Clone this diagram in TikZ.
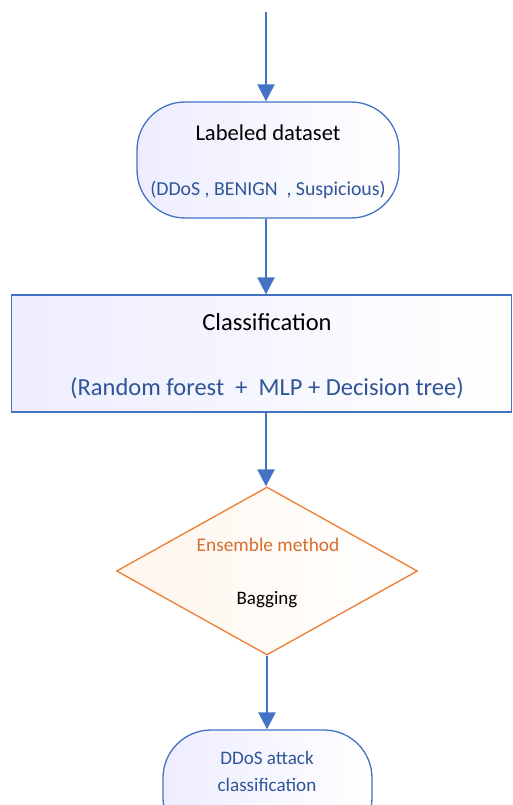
\documentclass[tikz,border=0pt]{standalone}
\usepackage{fontspec}
\setmainfont{Carlito}
\usetikzlibrary{arrows.meta,shapes.geometric}
\definecolor{flowblue}{RGB}{68,114,196}
\definecolor{textblue}{RGB}{47,85,151}
\definecolor{floworange}{RGB}{237,125,49}
\definecolor{textorange}{RGB}{214,110,45}
\begin{document}
\begin{tikzpicture}[x=1pt,y=-1pt]
		\tikzstyle{every node}+=[inner sep=0pt]
		\tikzstyle{terminal}=[draw=flowblue, line width=1.3pt, rounded corners=48pt, left color=blue!7, right color=white]
		\tikzstyle{process}=[draw=flowblue, line width=1.3pt, left color=blue!7, right color=white]
		\tikzstyle{decision}=[diamond, draw=floworange, line width=1.3pt, left color=orange!7, right color=white]
		\tikzstyle{flow}=[draw=flowblue, line width=2.4pt, -{Triangle[length=17pt,width=17pt]}]
		\useasboundingbox (0,0) rectangle (512,805);
		\clip (0,0) rectangle (512,805);
		% boxes
		\node [terminal, minimum width=262pt, minimum height=116pt] (dataset) at (268,160) {};
		\node [process, minimum width=500pt, minimum height=117pt] (classify) at (261.5,353.5) {};
		\node [decision, minimum width=301pt, minimum height=168pt] (ensemble) at (267,571) {};
		\node [terminal, minimum width=209pt, minimum height=116pt] (result) at (267.5,788) {};
		% texts
		\node (datasettitle) at (268,133) {\fontsize{22.6}{26}\selectfont Labeled dataset};
		\node (datasetlabels) at (268,190) {\fontsize{19.8}{23}\selectfont\color{textblue}(DDoS , BENIGN \ , Suspicious)};
		\node (classifytitle) at (267,322) {\fontsize{24.5}{28}\selectfont Classification};
		\node (classifymodels) at (267,388) {\fontsize{24.5}{28}\selectfont\color{textblue}(Random forest \ + \ MLP + Decision tree)};
		\node (ensembletitle) at (268,545) {\fontsize{19.3}{23}\selectfont\color{textorange}Ensemble method};
		\node (ensemblebag) at (267,600) {\fontsize{19}{23}\selectfont Bagging};
		\node [align=center, font=\fontsize{19.1}{27}\selectfont, text=textblue] (resulttext) at (267,771) {DDoS attack\\classification};
		% connectors
		\coordinate (start) at (266,12);
		\draw [flow] (start) -- (start |- dataset.north);
		\draw [flow] (start |- dataset.south) -- (start |- classify.north);
		\draw [flow] (start |- classify.south) -- (start |- ensemble.north);
		\draw [flow] (ensemble.south) -- (ensemble.south |- result.north);
\end{tikzpicture}
\end{document}
